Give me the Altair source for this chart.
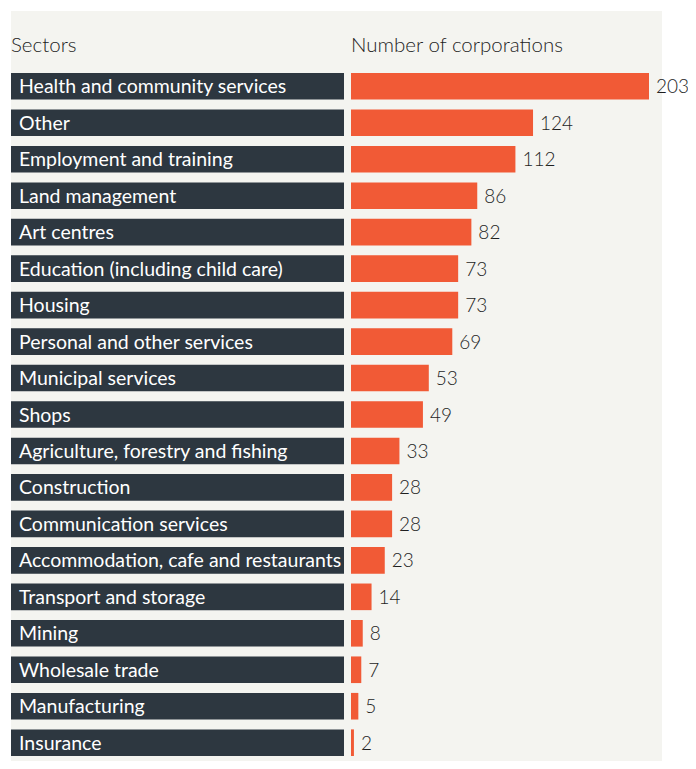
import altair as alt
import pandas as pd

sectors = [
    "Health and community services",
    "Other",
    "Employment and training",
    "Land management",
    "Art centres",
    "Education (including child care)",
    "Housing",
    "Personal and other services",
    "Municipal services",
    "Shops",
    "Agriculture, forestry and fishing",
    "Construction",
    "Communication services",
    "Accommodation, cafe and restaurants",
    "Transport and storage",
    "Mining",
    "Wholesale trade",
    "Manufacturing",
    "Insurance",
]
counts = [203, 124, 112, 86, 82, 73, 73, 69, 53, 49, 33, 28, 28, 23, 14, 8, 7, 5, 2]

df = pd.DataFrame({"Sector": sectors, "Count": counts})

FONT = "Lato"
DARK = "#2d3740"
ORANGE = "#f15a36"
TEXT = "#1e1e1e"

y_enc = alt.Y("Sector:N", sort=sectors, axis=None,
              scale=alt.Scale(range=[62, 745], paddingInner=0.27, paddingOuter=0))
x_scale = alt.Scale(domain=[0, 203], range=[340, 638])

base = alt.Chart(df)

label_bg = base.mark_bar(color=DARK).encode(
    y=y_enc, x=alt.value(0), x2=alt.value(333)
)
label_txt = base.mark_text(align="left", baseline="middle", color="white",
                           font=FONT, fontSize=19.5, dy=1).encode(
    y=y_enc, x=alt.value(8), text="Sector:N"
)
bars = base.mark_bar(color=ORANGE).encode(
    y=y_enc, x=alt.X("Count:Q", scale=x_scale, axis=None)
)
vals = base.mark_text(align="left", baseline="middle", color=TEXT,
                      font=FONT, fontSize=19, fontWeight=300, dx=7, dy=1).encode(
    y=y_enc, x=alt.X("Count:Q", scale=x_scale, axis=None), text="Count:Q"
)

hdr_df = pd.DataFrame({"t": ["Sectors", "Number of corporations"], "px": [0, 340]})
headers = alt.Chart(hdr_df).mark_text(align="left", baseline="alphabetic", color=TEXT,
                                      font=FONT, fontSize=20.5, fontWeight=300).encode(
    x=alt.X("px:Q", scale=None), y=alt.value(41), text="t:N"
)

chart = alt.layer(label_bg, label_txt, bars, vals, headers).properties(
    width=651, height=750,
    background="white",
    autosize=alt.AutoSizeParams(type="none"),
    padding={"left": 3, "top": 3, "right": 26, "bottom": 0},
).configure_view(stroke=None, fill="#f4f4f0")

chart.save("out.html", embed_options={"renderer": "svg", "actions": False})
